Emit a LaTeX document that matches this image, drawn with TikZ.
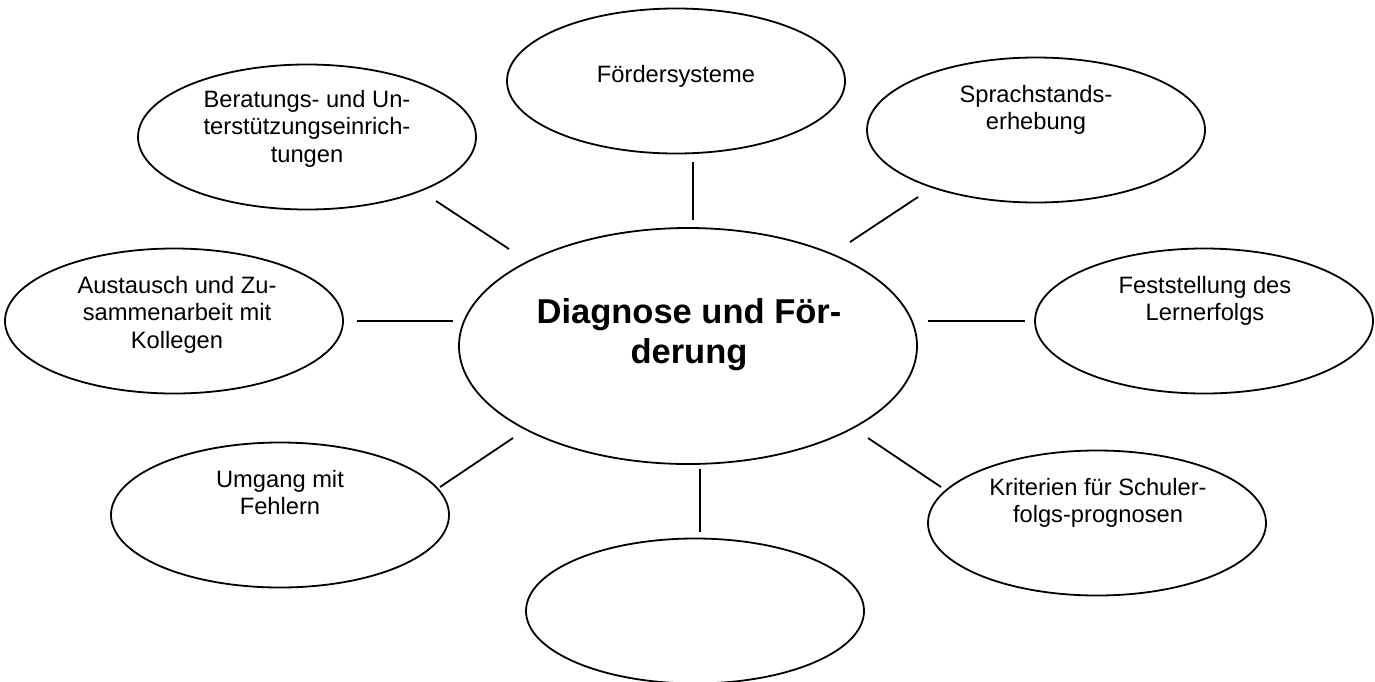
\documentclass[tikz,border=0pt]{standalone}
\usepackage{fontspec}
\setmainfont{Liberation Sans}
\usetikzlibrary{shapes.geometric}
% invisible rule fixing the height of the first text line
\newcommand\firstline[1]{\rule{0pt}{#1}}
\begin{document}
\begin{tikzpicture}[x=1pt,y=-1pt,
  bubble/.style={draw, ellipse, line width=1.8pt, minimum width=338pt,
                 minimum height=145pt, inner sep=0pt},
  hub/.style={bubble, minimum width=458pt, minimum height=236pt},
  txt/.style={anchor=north, align=center, inner sep=0pt,
              font=\fontsize{23.7}{27.5}\selectfont},
  hubtxt/.style={anchor=north, align=center, inner sep=0pt,
                 font=\bfseries\fontsize{34.5}{40}\selectfont},
  link/.style={line width=1.8pt}]
\useasboundingbox (0,0) rectangle (1375,681);

% central topic
\node[hub] (hub) at (688,346) {};
\node[hubtxt] (hubl) at (689,295) {\firstline{28pt}Diagnose und För-\\derung};

% surrounding topics
\node[bubble] (foerd) at (676,81) {};
\node[txt] (foerdl) at (676,63) {\firstline{19pt}Fördersysteme};

\node[bubble] (berat) at (307,137) {};
\node[txt] (beratl) at (307,88) {\firstline{19pt}Beratungs- und Un-\\terstützungseinrich-\\tungen};

\node[bubble] (sprach) at (1036,130) {};
\node[txt] (sprachl) at (1036,83) {\firstline{19pt}Sprachstands-\\erhebung};

\node[bubble] (aust) at (174,321) {};
\node[txt] (austl) at (177,274) {\firstline{19pt}Austausch und Zu-\\sammenarbeit mit\\Kollegen};

\node[bubble] (fest) at (1204,321) {};
\node[txt] (festl) at (1205,274) {\firstline{19pt}Feststellung des\\Lernerfolgs};

\node[bubble] (umg) at (280,515) {};
\node[txt] (umgl) at (280,468) {\firstline{19pt}Umgang mit\\Fehlern};

\node[bubble] (krit) at (1097,523) {};
\node[txt] (kritl) at (1098,476) {\firstline{19pt}Kriterien für Schuler-\\folgs-prognosen};

\node[bubble] (empty) at (695,611) {};

% connector end points (the strokes stop short of the ellipses)
\coordinate (t1) at (693,162);  \coordinate (t2) at (693,220);
\coordinate (ul1) at (436,201); \coordinate (ul2) at (509,249);
\coordinate (ur1) at (850,242); \coordinate (ur2) at (918,197);
\coordinate (l1) at (357,321);  \coordinate (l2) at (453,321);
\coordinate (r1) at (928,321);  \coordinate (r2) at (1025,321);
\coordinate (ll1) at (440,487); \coordinate (ll2) at (513,438);
\coordinate (b1) at (700,469);  \coordinate (b2) at (700,532);
\coordinate (lr1) at (868,438); \coordinate (lr2) at (941,487);

\draw[link] (t1) -- (t2);
\draw[link] (ul1) -- (ul2);
\draw[link] (ur1) -- (ur2);
\draw[link] (l1) -- (l2);
\draw[link] (r1) -- (r2);
\draw[link] (ll1) -- (ll2);
\draw[link] (b1) -- (b2);
\draw[link] (lr1) -- (lr2);
\end{tikzpicture}
\end{document}
